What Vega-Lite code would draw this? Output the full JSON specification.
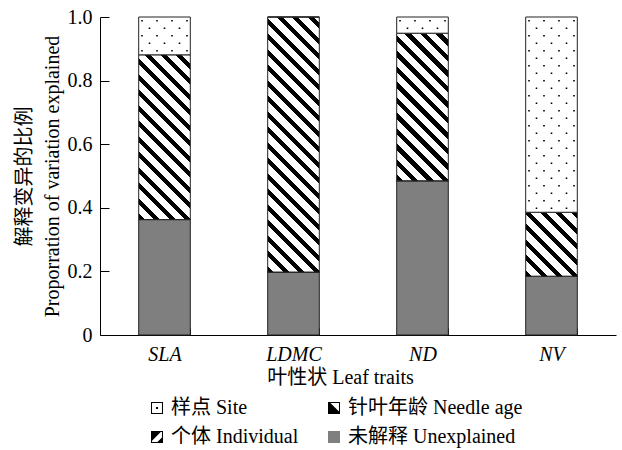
{
  "$schema": "https://vega.github.io/schema/vega-lite/v6.json",
  "width": 516,
  "height": 318,
  "autosize": {"type": "none"},
  "padding": {"left": 100, "top": 17, "right": 6, "bottom": 115},
  "background": "white",
  "config": {
    "font": "Liberation Serif, Noto Sans CJK SC",
    "view": {"stroke": null},
    "axis": {"labelFontSize": 20, "titleFontSize": 20, "titleFontWeight": "normal", "labelColor": "black", "titleColor": "black", "domainColor": "black", "tickColor": "black", "grid": false}
  },
  "data": {
    "values": [
      {"trait": "SLA", "comp": "未解释 Unexplained", "order": 1, "value": 0.363},
      {"trait": "SLA", "comp": "个体 Individual", "order": 2, "value": 0},
      {"trait": "SLA", "comp": "针叶年龄 Needle age", "order": 3, "value": 0.518},
      {"trait": "SLA", "comp": "样点 Site", "order": 4, "value": 0.119},
      {"trait": "LDMC", "comp": "未解释 Unexplained", "order": 1, "value": 0.198},
      {"trait": "LDMC", "comp": "个体 Individual", "order": 2, "value": 0},
      {"trait": "LDMC", "comp": "针叶年龄 Needle age", "order": 3, "value": 0.802},
      {"trait": "LDMC", "comp": "样点 Site", "order": 4, "value": 0},
      {"trait": "ND", "comp": "未解释 Unexplained", "order": 1, "value": 0.485},
      {"trait": "ND", "comp": "个体 Individual", "order": 2, "value": 0},
      {"trait": "ND", "comp": "针叶年龄 Needle age", "order": 3, "value": 0.464},
      {"trait": "ND", "comp": "样点 Site", "order": 4, "value": 0.051},
      {"trait": "NV", "comp": "未解释 Unexplained", "order": 1, "value": 0.185},
      {"trait": "NV", "comp": "个体 Individual", "order": 2, "value": 0},
      {"trait": "NV", "comp": "针叶年龄 Needle age", "order": 3, "value": 0.201},
      {"trait": "NV", "comp": "样点 Site", "order": 4, "value": 0.614}
    ]
  },
  "transform": [
    {"stack": "value", "groupby": ["trait"], "sort": [{"field": "order", "order": "ascending"}], "as": ["y0", "y1"]}
  ],
  "encoding": {
    "x": {
      "field": "trait", "type": "nominal", "sort": ["SLA", "LDMC", "ND", "NV"],
      "scale": {"paddingInner": 0.6, "paddingOuter": 0.3},
      "axis": {"title": "叶性状 Leaf traits", "labelAngle": 0, "labelFontStyle": "italic", "tickBand": "extent", "tickSize": -7, "labelPadding": 16, "titlePadding": 3, "titleX": 240}
    },
    "y": {
      "field": "y1", "type": "quantitative",
      "scale": {"domain": [0, 1], "nice": false},
      "axis": {"title": ["解释变异的比例", "Proporration of variation explained"], "titleLineHeight": 28, "values": [0, 0.2, 0.4, 0.6, 0.8, 1], "labelExpr": "datum.value === 0 ? '0' : format(datum.value, '.1f')", "tickSize": -9, "labelPadding": 17, "titlePadding": 5}
    }
  },
  "layer": [
    {
      "mark": {"type": "point", "filled": true, "opacity": 0},
      "encoding": {
        "color": {
          "field": "comp", "type": "nominal",
          "scale": {"domain": ["样点 Site", "针叶年龄 Needle age", "个体 Individual", "未解释 Unexplained"], "range": ["black", "black", "black", "#7f7f7f"]},
          "legend": {
            "title": null, "orient": "none", "legendX": 47, "legendY": 381, "direction": "horizontal", "columns": 2, "columnPadding": 25, "rowPadding": 9, "padding": 0,
            "symbolSize": 144, "symbolStrokeColor": "black", "symbolStrokeWidth": 0.8, "symbolOpacity": 1, "labelFontSize": 20, "labelOffset": 4, "labelColor": "black", "labelLimit": 400
          }
        },
        "shape": {
          "field": "comp", "type": "nominal",
          "scale": {
            "domain": ["样点 Site", "针叶年龄 Needle age", "个体 Individual", "未解释 Unexplained"],
            "range": [
              "M-1,-1L1,-1L1,1L-1,1Z M-0.83,-0.83L-0.83,0.83L0.83,0.83L0.83,-0.83Z M-0.17,-0.17L0.17,-0.17L0.17,0.17L-0.17,0.17Z",
              "M-1,-1L1,-1L1,1L-1,1Z M-0.6,-0.83L0.83,0.6L0.83,-0.83Z",
              "M-1,-1L1,-1L1,1L-1,1Z M0.63,-0.83L-0.83,0.63L-0.83,0.83L0.07,0.83L0.83,0.07L0.83,-0.83Z",
              "M-1,-1L1,-1L1,1L-1,1Z"
            ]
          },
          "legend": {
            "title": null, "orient": "none", "legendX": 47, "legendY": 381, "direction": "horizontal", "columns": 2, "columnPadding": 25, "rowPadding": 9, "padding": 0,
            "symbolSize": 144, "symbolStrokeColor": "black", "symbolStrokeWidth": 0.8, "symbolOpacity": 1, "labelFontSize": 20, "labelOffset": 4, "labelColor": "black", "labelLimit": 400
          }
        }
      }
    },
    {
      "mark": {"type": "bar", "stroke": "#222", "strokeWidth": 1},
      "encoding": {
        "y2": {"field": "y0"},
        "fill": {
          "condition": [
            {"test": "datum.comp === '未解释 Unexplained'", "value": "#7f7f7f"},
            {"test": "datum.comp === '针叶年龄 Needle age' && datum.trait === 'SLA'", "value": {"gradient": "linear", "x1": 0, "y1": 1, "x2": 0.537, "y2": -0.714, "stops": [{"offset":0,"color":"#000"},{"offset":0.02,"color":"#000"},{"offset":0.02,"color":"#fff"},{"offset":0.05,"color":"#fff"},{"offset":0.05,"color":"#000"},{"offset":0.07,"color":"#000"},{"offset":0.07,"color":"#fff"},{"offset":0.1,"color":"#fff"},{"offset":0.1,"color":"#000"},{"offset":0.12,"color":"#000"},{"offset":0.12,"color":"#fff"},{"offset":0.15,"color":"#fff"},{"offset":0.15,"color":"#000"},{"offset":0.17,"color":"#000"},{"offset":0.17,"color":"#fff"},{"offset":0.2,"color":"#fff"},{"offset":0.2,"color":"#000"},{"offset":0.22,"color":"#000"},{"offset":0.22,"color":"#fff"},{"offset":0.25,"color":"#fff"},{"offset":0.25,"color":"#000"},{"offset":0.27,"color":"#000"},{"offset":0.27,"color":"#fff"},{"offset":0.3,"color":"#fff"},{"offset":0.3,"color":"#000"},{"offset":0.32,"color":"#000"},{"offset":0.32,"color":"#fff"},{"offset":0.35,"color":"#fff"},{"offset":0.35,"color":"#000"},{"offset":0.37,"color":"#000"},{"offset":0.37,"color":"#fff"},{"offset":0.4,"color":"#fff"},{"offset":0.4,"color":"#000"},{"offset":0.42,"color":"#000"},{"offset":0.42,"color":"#fff"},{"offset":0.45,"color":"#fff"},{"offset":0.45,"color":"#000"},{"offset":0.47,"color":"#000"},{"offset":0.47,"color":"#fff"},{"offset":0.5,"color":"#fff"},{"offset":0.5,"color":"#000"},{"offset":0.52,"color":"#000"},{"offset":0.52,"color":"#fff"},{"offset":0.55,"color":"#fff"},{"offset":0.55,"color":"#000"},{"offset":0.57,"color":"#000"},{"offset":0.57,"color":"#fff"},{"offset":0.6,"color":"#fff"},{"offset":0.6,"color":"#000"},{"offset":0.62,"color":"#000"},{"offset":0.62,"color":"#fff"},{"offset":0.65,"color":"#fff"},{"offset":0.65,"color":"#000"},{"offset":0.67,"color":"#000"},{"offset":0.67,"color":"#fff"},{"offset":0.7,"color":"#fff"},{"offset":0.7,"color":"#000"},{"offset":0.72,"color":"#000"},{"offset":0.72,"color":"#fff"},{"offset":1,"color":"#fff"}]}},
            {"test": "datum.comp === '针叶年龄 Needle age' && datum.trait === 'LDMC'", "value": {"gradient": "linear", "x1": 0, "y1": 1, "x2": 0.2363, "y2": -0.1679, "stops": [{"offset":0,"color":"#000"},{"offset":0.02,"color":"#000"},{"offset":0.02,"color":"#fff"},{"offset":0.05,"color":"#fff"},{"offset":0.05,"color":"#000"},{"offset":0.07,"color":"#000"},{"offset":0.07,"color":"#fff"},{"offset":0.1,"color":"#fff"},{"offset":0.1,"color":"#000"},{"offset":0.12,"color":"#000"},{"offset":0.12,"color":"#fff"},{"offset":0.15,"color":"#fff"},{"offset":0.15,"color":"#000"},{"offset":0.17,"color":"#000"},{"offset":0.17,"color":"#fff"},{"offset":0.2,"color":"#fff"},{"offset":0.2,"color":"#000"},{"offset":0.22,"color":"#000"},{"offset":0.22,"color":"#fff"},{"offset":0.25,"color":"#fff"},{"offset":0.25,"color":"#000"},{"offset":0.27,"color":"#000"},{"offset":0.27,"color":"#fff"},{"offset":0.3,"color":"#fff"},{"offset":0.3,"color":"#000"},{"offset":0.32,"color":"#000"},{"offset":0.32,"color":"#fff"},{"offset":0.35,"color":"#fff"},{"offset":0.35,"color":"#000"},{"offset":0.37,"color":"#000"},{"offset":0.37,"color":"#fff"},{"offset":0.4,"color":"#fff"},{"offset":0.4,"color":"#000"},{"offset":0.42,"color":"#000"},{"offset":0.42,"color":"#fff"},{"offset":0.45,"color":"#fff"},{"offset":0.45,"color":"#000"},{"offset":0.47,"color":"#000"},{"offset":0.47,"color":"#fff"},{"offset":0.5,"color":"#fff"},{"offset":0.5,"color":"#000"},{"offset":0.52,"color":"#000"},{"offset":0.52,"color":"#fff"},{"offset":0.55,"color":"#fff"},{"offset":0.55,"color":"#000"},{"offset":0.57,"color":"#000"},{"offset":0.57,"color":"#fff"},{"offset":0.6,"color":"#fff"},{"offset":0.6,"color":"#000"},{"offset":0.62,"color":"#000"},{"offset":0.62,"color":"#fff"},{"offset":0.65,"color":"#fff"},{"offset":0.65,"color":"#000"},{"offset":0.67,"color":"#000"},{"offset":0.67,"color":"#fff"},{"offset":0.7,"color":"#fff"},{"offset":0.7,"color":"#000"},{"offset":0.72,"color":"#000"},{"offset":0.72,"color":"#fff"},{"offset":0.75,"color":"#fff"},{"offset":0.75,"color":"#000"},{"offset":0.77,"color":"#000"},{"offset":0.77,"color":"#fff"},{"offset":0.8,"color":"#fff"},{"offset":0.8,"color":"#000"},{"offset":0.82,"color":"#000"},{"offset":0.82,"color":"#fff"},{"offset":0.85,"color":"#fff"},{"offset":0.85,"color":"#000"},{"offset":0.87,"color":"#000"},{"offset":0.87,"color":"#fff"},{"offset":0.9,"color":"#fff"},{"offset":0.9,"color":"#000"},{"offset":0.92,"color":"#000"},{"offset":0.92,"color":"#fff"},{"offset":0.95,"color":"#fff"},{"offset":0.95,"color":"#000"},{"offset":0.97,"color":"#000"},{"offset":0.97,"color":"#fff"},{"offset":1,"color":"#fff"}]}},
            {"test": "datum.comp === '针叶年龄 Needle age' && datum.trait === 'ND'", "value": {"gradient": "linear", "x1": 0, "y1": 1, "x2": 0.6543, "y2": -0.8715, "stops": [{"offset":0,"color":"#000"},{"offset":0.02,"color":"#000"},{"offset":0.02,"color":"#fff"},{"offset":0.05,"color":"#fff"},{"offset":0.05,"color":"#000"},{"offset":0.07,"color":"#000"},{"offset":0.07,"color":"#fff"},{"offset":0.1,"color":"#fff"},{"offset":0.1,"color":"#000"},{"offset":0.12,"color":"#000"},{"offset":0.12,"color":"#fff"},{"offset":0.15,"color":"#fff"},{"offset":0.15,"color":"#000"},{"offset":0.17,"color":"#000"},{"offset":0.17,"color":"#fff"},{"offset":0.2,"color":"#fff"},{"offset":0.2,"color":"#000"},{"offset":0.22,"color":"#000"},{"offset":0.22,"color":"#fff"},{"offset":0.25,"color":"#fff"},{"offset":0.25,"color":"#000"},{"offset":0.27,"color":"#000"},{"offset":0.27,"color":"#fff"},{"offset":0.3,"color":"#fff"},{"offset":0.3,"color":"#000"},{"offset":0.32,"color":"#000"},{"offset":0.32,"color":"#fff"},{"offset":0.35,"color":"#fff"},{"offset":0.35,"color":"#000"},{"offset":0.37,"color":"#000"},{"offset":0.37,"color":"#fff"},{"offset":0.4,"color":"#fff"},{"offset":0.4,"color":"#000"},{"offset":0.42,"color":"#000"},{"offset":0.42,"color":"#fff"},{"offset":0.45,"color":"#fff"},{"offset":0.45,"color":"#000"},{"offset":0.47,"color":"#000"},{"offset":0.47,"color":"#fff"},{"offset":0.5,"color":"#fff"},{"offset":0.5,"color":"#000"},{"offset":0.52,"color":"#000"},{"offset":0.52,"color":"#fff"},{"offset":0.55,"color":"#fff"},{"offset":0.55,"color":"#000"},{"offset":0.57,"color":"#000"},{"offset":0.57,"color":"#fff"},{"offset":0.6,"color":"#fff"},{"offset":0.6,"color":"#000"},{"offset":0.62,"color":"#000"},{"offset":0.62,"color":"#fff"},{"offset":0.65,"color":"#fff"},{"offset":0.65,"color":"#000"},{"offset":0.67,"color":"#000"},{"offset":0.67,"color":"#fff"},{"offset":1,"color":"#fff"}]}},
            {"test": "datum.comp === '针叶年龄 Needle age' && datum.trait === 'NV'", "value": {"gradient": "linear", "x1": 0, "y1": 1, "x2": 2.3713, "y2": -1.9365, "stops": [{"offset":0,"color":"#000"},{"offset":0.02,"color":"#000"},{"offset":0.02,"color":"#fff"},{"offset":0.05,"color":"#fff"},{"offset":0.05,"color":"#000"},{"offset":0.07,"color":"#000"},{"offset":0.07,"color":"#fff"},{"offset":0.1,"color":"#fff"},{"offset":0.1,"color":"#000"},{"offset":0.12,"color":"#000"},{"offset":0.12,"color":"#fff"},{"offset":0.15,"color":"#fff"},{"offset":0.15,"color":"#000"},{"offset":0.17,"color":"#000"},{"offset":0.17,"color":"#fff"},{"offset":0.2,"color":"#fff"},{"offset":0.2,"color":"#000"},{"offset":0.22,"color":"#000"},{"offset":0.22,"color":"#fff"},{"offset":0.25,"color":"#fff"},{"offset":0.25,"color":"#000"},{"offset":0.27,"color":"#000"},{"offset":0.27,"color":"#fff"},{"offset":0.3,"color":"#fff"},{"offset":0.3,"color":"#000"},{"offset":0.32,"color":"#000"},{"offset":0.32,"color":"#fff"},{"offset":0.35,"color":"#fff"},{"offset":0.35,"color":"#000"},{"offset":0.37,"color":"#000"},{"offset":0.37,"color":"#fff"},{"offset":1,"color":"#fff"}]}}
          ],
          "value": "white"
        }
      }
    },
    {
      "transform": [{"filter": "datum.comp === '样点 Site' && datum.value > 0"}],
      "mark": {"type": "rule", "stroke": "black", "strokeWidth": 1.6, "strokeDash": [1.6, 13.4], "strokeDashOffset": 12, "xOffset": -22.5},
      "encoding": {"y2": {"field": "y0"}}
    },
    {
      "transform": [{"filter": "datum.comp === '样点 Site' && datum.value > 0"}],
      "mark": {"type": "rule", "stroke": "black", "strokeWidth": 1.6, "strokeDash": [1.6, 13.4], "strokeDashOffset": 4.5, "xOffset": -15},
      "encoding": {"y2": {"field": "y0"}}
    },
    {
      "transform": [{"filter": "datum.comp === '样点 Site' && datum.value > 0"}],
      "mark": {"type": "rule", "stroke": "black", "strokeWidth": 1.6, "strokeDash": [1.6, 13.4], "strokeDashOffset": 12, "xOffset": -7.5},
      "encoding": {"y2": {"field": "y0"}}
    },
    {
      "transform": [{"filter": "datum.comp === '样点 Site' && datum.value > 0"}],
      "mark": {"type": "rule", "stroke": "black", "strokeWidth": 1.6, "strokeDash": [1.6, 13.4], "strokeDashOffset": 4.5, "xOffset": 0},
      "encoding": {"y2": {"field": "y0"}}
    },
    {
      "transform": [{"filter": "datum.comp === '样点 Site' && datum.value > 0"}],
      "mark": {"type": "rule", "stroke": "black", "strokeWidth": 1.6, "strokeDash": [1.6, 13.4], "strokeDashOffset": 12, "xOffset": 7.5},
      "encoding": {"y2": {"field": "y0"}}
    },
    {
      "transform": [{"filter": "datum.comp === '样点 Site' && datum.value > 0"}],
      "mark": {"type": "rule", "stroke": "black", "strokeWidth": 1.6, "strokeDash": [1.6, 13.4], "strokeDashOffset": 4.5, "xOffset": 15},
      "encoding": {"y2": {"field": "y0"}}
    },
    {
      "transform": [{"filter": "datum.comp === '样点 Site' && datum.value > 0"}],
      "mark": {"type": "rule", "stroke": "black", "strokeWidth": 1.6, "strokeDash": [1.6, 13.4], "strokeDashOffset": 12, "xOffset": 22.5},
      "encoding": {"y2": {"field": "y0"}}
    }
  ]
}
